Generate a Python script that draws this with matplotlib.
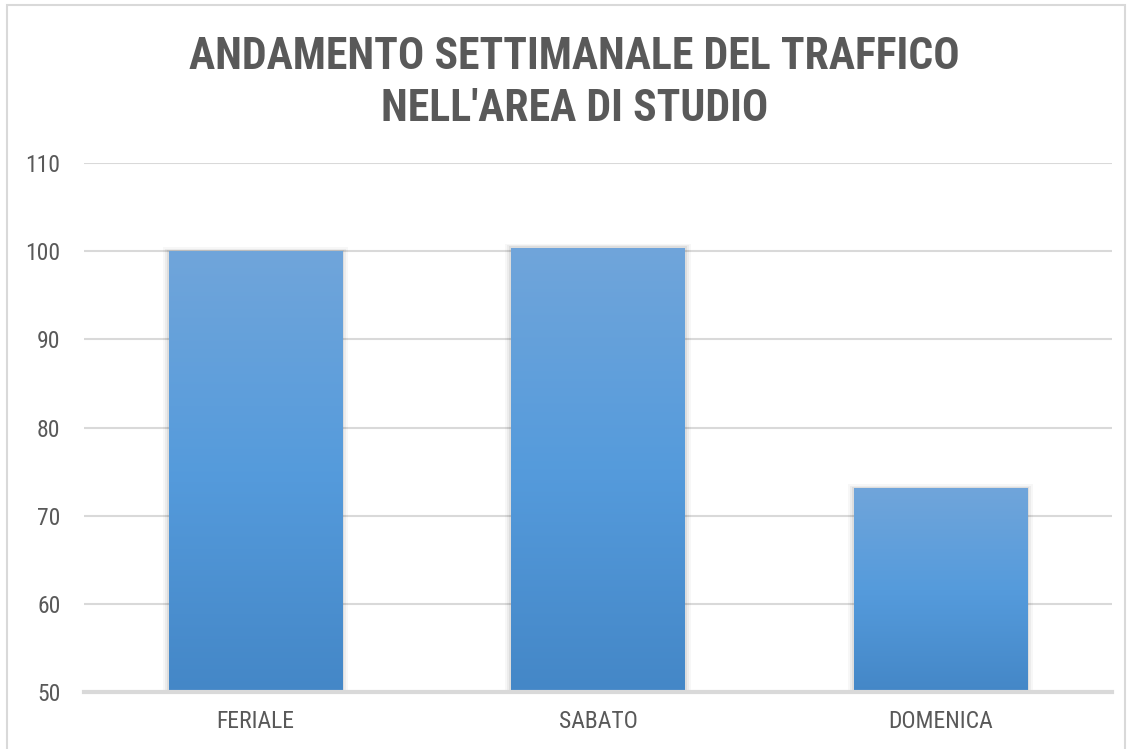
import numpy as np
import matplotlib.pyplot as plt
from matplotlib import font_manager
from matplotlib.colors import LinearSegmentedColormap
from matplotlib.patches import Rectangle

categories = ['FERIALE', 'SABATO', 'DOMENICA']
values = [100.0, 100.4, 73.1]
yticks = [50, 60, 70, 80, 90, 100, 110]
title = "ANDAMENTO SETTIMANALE DEL TRAFFICO\nNELL'AREA DI STUDIO"

names = {f.name for f in font_manager.fontManager.ttflist}
narrow = 'Liberation Sans Narrow' if 'Liberation Sans Narrow' in names else 'Roboto Condensed'
if narrow not in names:
    narrow = 'Liberation Sans'
plt.rcParams['font.family'] = [narrow, 'DejaVu Sans']

grey = '#595959'
grid = '#D9D9D9'

fig = plt.figure(figsize=(11.31, 7.49), dpi=100)
fig.patches.append(Rectangle((7 / 1131, -0.1), 1118 / 1131, 1.1 - 5 / 749,
                             transform=fig.transFigure, fill=False,
                             edgecolor='#D9D9D9', linewidth=1.5))
ax = fig.add_axes([84 / 1131, 1 - 692 / 749, 1028 / 1131, 529 / 749])

x = np.arange(len(categories))
bars = ax.bar(x, np.array(values) - 50, bottom=50, width=0.505,
              color='none', zorder=3)

cmap = LinearSegmentedColormap.from_list('g', ['#4487C7', '#559BDC', '#70A5DA'])
grad = np.linspace(0, 1, 256).reshape(-1, 1)
for b in bars:
    x0, y0 = b.get_x(), b.get_y()
    w, h = b.get_width(), b.get_height()
    # soft shadow
    for i, a in enumerate([0.06, 0.045, 0.03]):
        d = 0.006 * (i + 1)
        ax.add_patch(Rectangle((x0 - d, y0), w + 2 * d, h + d * 25,
                               facecolor='#000000', alpha=a, edgecolor='none',
                               zorder=2.5))
    im = ax.imshow(grad, cmap=cmap, origin='lower', aspect='auto',
                   extent=[x0, x0 + w, y0, y0 + h], zorder=3)
    im.set_clip_path(b)

ax.set_xlim(-0.5, 2.5)
ax.set_ylim(50, 110)
ax.set_yticks(yticks)
ax.set_xticks(x)
ax.set_xticklabels(categories)
ax.yaxis.grid(True, color=grid, linewidth=1.5, zorder=0)
ax.set_axisbelow(True)
for s in ['top', 'right', 'left']:
    ax.spines[s].set_visible(False)
ax.spines['bottom'].set_color(grid)
ax.spines['bottom'].set_linewidth(3)
ax.spines['bottom'].set_zorder(4)
ax.tick_params(axis='both', length=0, labelsize=17, labelcolor=grey)
ax.tick_params(axis='y', pad=17)
ax.tick_params(axis='x', pad=13)

fig.text(0.508, 1 - 83 / 749, title, ha='center', va='center',
         fontsize=31.5, fontweight='bold', color=grey, linespacing=1.3)

fig.savefig('out.png', dpi=100)
